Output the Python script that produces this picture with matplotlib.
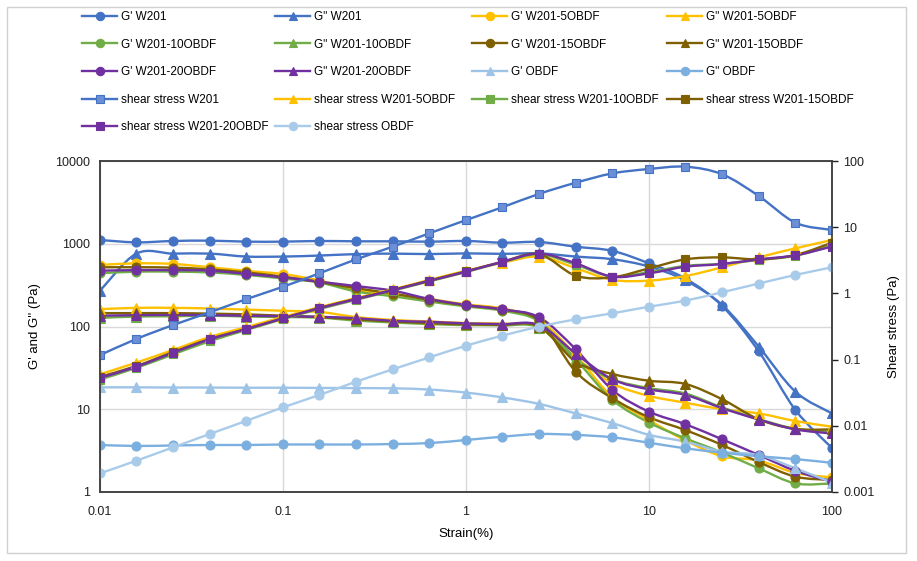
import numpy as np
import matplotlib
matplotlib.use("Agg")
import matplotlib.pyplot as plt
from matplotlib.path import Path
from matplotlib.patches import PathPatch, Rectangle
from matplotlib.lines import Line2D

plt.rcParams['font.family'] = ['Liberation Sans', 'DejaVu Sans']

# strain (%)
strain = [0.01, 0.0158, 0.0251, 0.0398, 0.0631, 0.1, 0.158, 0.251, 0.398, 0.631,
          1, 1.58, 2.51, 3.98, 6.31, 10, 15.8, 25.1, 39.8, 63.1, 100]

# storage modulus G' (Pa)
g1_w201 = [1110, 1040, 1080, 1090, 1060, 1060, 1080, 1070, 1070, 1060, 1080, 1030, 1050, 920, 820, 580, 380, 177, 50, 9.8, 3.4]
g1_5 = [555, 580, 570, 520, 470, 430, 360, 275, 245, 215, 185, 165, 120, 45, 14, 7.4, 4.2, 2.7, 2.4, 1.7, 1.5]
g1_10 = [440, 460, 460, 450, 420, 380, 340, 265, 232, 200, 175, 155, 115, 40, 13, 6.9, 4.45, 3.0, 1.93, 1.27, 1.27]
g1_15 = [520, 520, 515, 490, 450, 400, 345, 290, 250, 210, 180, 160, 118, 28.4, 13.6, 8.0, 5.6, 3.7, 2.3, 1.53, 1.4]
g1_20 = [473, 480, 480, 473, 431, 393, 348, 308, 271, 215, 182, 161, 129, 53, 17.1, 9.35, 6.6, 4.33, 2.8, 1.8, 1.33]
g1_obdf = [18.4, 18.4, 18.3, 18.3, 18.2, 18.2, 18.1, 18.0, 17.9, 17.3, 15.9, 13.9, 11.6, 8.9, 6.8, 4.9, 4.05, 3.07, 2.8, 1.93, 1.3]

# loss modulus G'' (Pa)
g2_w201 = [270, 760, 760, 760, 700, 700, 720, 750, 760, 750, 765, 755, 765, 700, 650, 530, 360, 182, 57, 16.3, 8.9]
g2_5 = [162, 168, 168, 165, 160, 155, 150, 130, 120, 115, 110, 108, 98, 42, 20.5, 14.5, 12, 10, 8.9, 7.2, 6.15]
g2_10 = [127, 132, 133, 135, 132, 130, 128, 118, 112, 107, 104, 103, 97, 40, 23, 18, 15.5, 10.5, 7.6, 5.8, 5.3]
g2_15 = [145, 145, 145, 143, 140, 135, 130, 122, 115, 110, 106, 105, 100, 37.5, 26.7, 22.1, 20.2, 13.2, 7.55, 5.8, 5.7]
g2_20 = [135, 137, 138, 137, 135, 133, 131, 126, 117, 114, 109, 107, 104, 47, 23, 17.4, 14.9, 10.3, 7.5, 5.7, 5.1]
g2_obdf = [3.7, 3.6, 3.65, 3.7, 3.7, 3.75, 3.75, 3.75, 3.8, 3.9, 4.25, 4.66, 5.02, 4.9, 4.58, 3.94, 3.37, 2.99, 2.7, 2.5, 2.25]

# shear stress (Pa)
ss_w201 = [0.117, 0.205, 0.333, 0.518, 0.82, 1.26, 2.01, 3.27, 5.08, 8.09, 12.8, 20, 31.9, 47, 65, 75.7, 82, 63, 29.6, 11.7, 9.08]
ss_5 = [0.06, 0.09, 0.14, 0.22, 0.31, 0.44, 0.62, 0.85, 1.15, 1.6, 2.2, 2.9, 3.6, 2.4, 1.6, 1.56, 1.83, 2.48, 3.5, 4.8, 6.4]
ss_10 = [0.05, 0.075, 0.12, 0.19, 0.28, 0.41, 0.58, 0.8, 1.1, 1.52, 2.1, 2.95, 3.9, 2.7, 1.8, 2.1, 2.6, 2.8, 3.2, 3.7, 5.3]
ss_15 = [0.055, 0.08, 0.13, 0.205, 0.29, 0.42, 0.6, 0.83, 1.13, 1.56, 2.15, 3.0, 3.9, 1.85, 1.75, 2.39, 3.27, 3.5, 3.27, 3.8, 5.83]
ss_20 = [0.053, 0.078, 0.127, 0.202, 0.29, 0.42, 0.6, 0.82, 1.12, 1.55, 2.13, 3.0, 4.0, 2.85, 1.79, 2.01, 2.53, 2.78, 3.27, 3.76, 5.1]
ss_obdf = [0.00191, 0.00297, 0.00473, 0.00752, 0.0119, 0.019, 0.0292, 0.0464, 0.0713, 0.108, 0.162, 0.23, 0.314, 0.406, 0.5, 0.63, 0.777, 1.04, 1.41, 1.9, 2.48]

BLUE, YEL, GRN, BRN, PUR = '#4472C4', '#FFC000', '#70AD47', '#7F6000', '#7030A0'
LB1, LB2, LB3 = '#9DC3E6', '#7BAFDF', '#A9CBEA'


def smooth_path(x, y):
    # excel-like smoothed line: catmull-rom bezier in log-log space
    pts = np.column_stack([np.log10(x), np.log10(y)])
    n = len(pts)
    verts, codes = [pts[0]], [Path.MOVETO]
    for i in range(n - 1):
        p0 = pts[i - 1] if i > 0 else pts[i]
        p1, p2 = pts[i], pts[i + 1]
        p3 = pts[i + 2] if i + 2 < n else pts[i + 1]
        verts += [p1 + (p2 - p0) / 6, p2 - (p3 - p1) / 6, p2]
        codes += [Path.CURVE4] * 3
    return Path(10 ** np.array(verts), codes)


fig = plt.figure(figsize=(9.17, 5.61), dpi=100)
ax = fig.add_axes([100 / 917, 69 / 561, 732 / 917, 331 / 561])
ax2 = ax.twinx()

# (axis, label, values, color, marker, marker face)
series = [
    (ax, "G' W201", g1_w201, BLUE, 'o', BLUE),
    (ax, 'G" W201', g2_w201, BLUE, '^', BLUE),
    (ax, "G' W201-5OBDF", g1_5, YEL, 'o', YEL),
    (ax, 'G" W201-5OBDF', g2_5, YEL, '^', YEL),
    (ax, "G' W201-10OBDF", g1_10, GRN, 'o', GRN),
    (ax, 'G" W201-10OBDF', g2_10, GRN, '^', GRN),
    (ax, "G' W201-15OBDF", g1_15, BRN, 'o', BRN),
    (ax, 'G" W201-15OBDF', g2_15, BRN, '^', BRN),
    (ax, "G' W201-20OBDF", g1_20, PUR, 'o', PUR),
    (ax, 'G" W201-20OBDF', g2_20, PUR, '^', PUR),
    (ax, "G' OBDF", g1_obdf, LB1, '^', LB1),
    (ax, 'G" OBDF', g2_obdf, LB2, 'o', LB2),
    (ax2, 'shear stress W201', ss_w201, BLUE, 's', '#6C8FD6'),
    (ax2, 'shear stress W201-5OBDF', ss_5, YEL, '^', YEL),
    (ax2, 'shear stress W201-10OBDF', ss_10, GRN, 's', GRN),
    (ax2, 'shear stress W201-15OBDF', ss_15, BRN, 's', BRN),
    (ax2, 'shear stress W201-20OBDF', ss_20, PUR, 's', PUR),
    (ax2, 'shear stress OBDF', ss_obdf, LB3, 'o', LB3),
]

handles = []
for a, label, vals, col, mk, fc in series:
    a.add_patch(PathPatch(smooth_path(strain, vals), fill=False, edgecolor=col,
                          lw=1.7, transform=a.transData, capstyle='round'))
    a.plot(strain, vals, ls='none', marker=mk, ms=6.5 if mk != 's' else 6,
           mfc=fc, mec=col, mew=0.8)
    handles.append(Line2D([], [], color=col, lw=1.7, marker=mk, ms=6,
                          mfc=fc, mec=col, mew=0.8, label=label))

ax.set_xscale('log')
ax.set_yscale('log')
ax2.set_yscale('log')
ax.set_xlim(0.01, 100)
ax.set_ylim(1, 10000)
ax2.set_ylim(0.001, 100)

ax.set_xticks([0.01, 0.1, 1, 10, 100], ['0.01', '0.1', '1', '10', '100'])
ax.set_yticks([1, 10, 100, 1000, 10000], ['1', '10', '100', '1000', '10000'])
ax2.set_yticks([0.001, 0.01, 0.1, 1, 10, 100], ['0.001', '0.01', '0.1', '1', '10', '100'])
for a in (ax, ax2):
    a.minorticks_off()
    a.tick_params(labelsize=9, colors='#202020')
ax.tick_params(axis='y', length=0, pad=7)
ax.tick_params(axis='x', length=0, pad=10)
ax2.tick_params(axis='y', length=4, width=1, direction='out', pad=4)

ax.grid(True, color='#D9D9D9', lw=1)
ax.set_axisbelow(True)
for a in (ax, ax2):
    for s in a.spines.values():
        s.set_color('#404040')
        s.set_linewidth(1.1)

ax.set_xlabel('Strain(%)', fontsize=9.5, labelpad=7)
ax.set_ylabel("G' and G'' (Pa)", fontsize=9.5, labelpad=10)
ax2.set_ylabel('Shear stress (Pa)', fontsize=9.5, labelpad=10)

# legend, row-major in 4 columns like the excel chart
col_x = [82, 275, 472, 667]
for c in range(4):
    hs = handles[c::4]
    fig.legend(handles=hs, loc='upper left', bbox_to_anchor=(col_x[c] / 917, 1 - 11 / 561),
               ncol=1, frameon=False, fontsize=8.5, handlelength=3, handletextpad=0.3,
               labelspacing=1.32, borderpad=0, borderaxespad=0)

fig.patches.append(Rectangle((7 / 917, 8 / 561), 899 / 917, 546 / 561, transform=fig.transFigure,
                             fill=False, edgecolor='#D0D0D0', lw=1))

fig.savefig('out.png', dpi=100)
